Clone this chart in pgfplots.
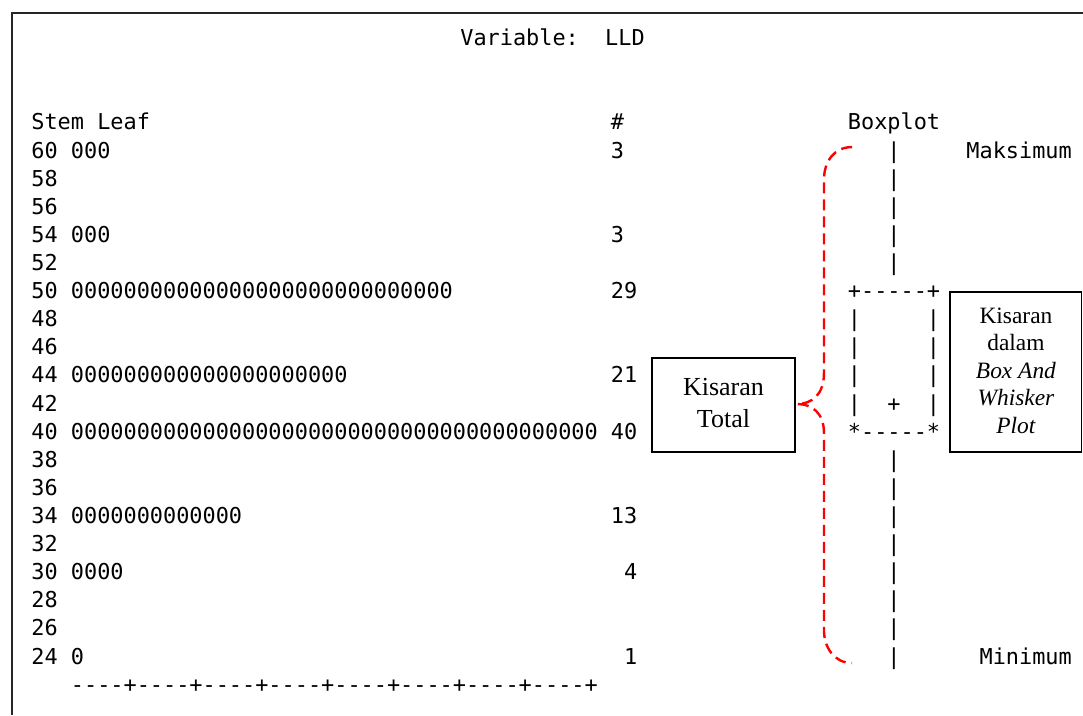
\documentclass[border=0pt]{standalone}
\usepackage{pgfplots}
\pgfplotsset{compat=1.18}
\usepackage{pgfplotstable}
\usepackage{fontspec}
\setmainfont{Liberation Serif}
\setmonofont{DejaVu Sans Mono}
\newcommand\mono{\ttfamily\fontsize{10.94pt}{13pt}\selectfont}

% all stems (stem labels)
\pgfplotstableread{
stem lab
60 60
58 58
56 56
54 54
52 52
50 50
48 48
46 46
44 44
42 42
40 40
38 38
36 36
34 34
32 32
30 30
28 28
26 26
24 24
}\stemtable

% leaves
\pgfplotstableread{
stem leaves
60 000
54 000
50 00000000000000000000000000000
44 000000000000000000000
40 0000000000000000000000000000000000000000
34 0000000000000
30 0000
24 0
}\leaftable

% counts (column position, stem, count)
\pgfplotstableread{
col stem n
44 60 3
44 54 3
44 50 29
44 44 21
44 40 40
44 34 13
45 30 4
45 24 1
}\counttable

% text boxplot
\pgfplotstableread{
col stem s
65 60 |
65 58 |
65 56 |
65 54 |
65 52 |
62 50 +-----+
62 48 |
68 48 |
62 46 |
68 46 |
62 44 |
68 44 |
62 42 |
65 42 +
68 42 |
62 40 *-----*
65 38 |
65 36 |
65 34 |
65 32 |
65 30 |
65 28 |
65 26 |
65 24 |
71 60 Maksimum
72 24 Minimum
}\boxtable

\begin{document}
\begin{tikzpicture}[txt/.style={font=\mono, anchor=base west, inner sep=0pt, yshift=-4pt, text=black}]
\begin{axis}[
  scale only axis, width=541.5pt, height=357.5pt,
  xmin=-2.354, xmax=79.88, ymin=19.804, ymax=70.672,
  hide axis, clip=false,
  every node near coord/.append style={font=\mono, anchor=base west, inner sep=0pt, yshift=-4pt, text=black},
]
\coordinate (ll) at (rel axis cs:0,0);
\coordinate (ur) at (rel axis cs:1,1);
% frame
\draw[line width=1pt, black!85] (axis cs:-1.405,19.804) -- (axis cs:-1.405,69.78) -- (axis cs:79.88,69.78);

\addplot[draw=none, mark=none, nodes near coords, point meta=explicit symbolic]
  table[x expr=0, y=stem, meta=lab]{\stemtable};
\addplot[draw=none, mark=none, nodes near coords, point meta=explicit symbolic]
  table[x expr=3, y=stem, meta=leaves]{\leaftable};
\addplot[draw=none, mark=none, nodes near coords, point meta=explicit symbolic]
  table[x=col, y=stem, meta=n]{\counttable};
\addplot[draw=none, mark=none, nodes near coords, point meta=explicit symbolic]
  table[x=col, y=stem, meta=s]{\boxtable};

% headers
\node[txt] at (axis cs:32.57,68) {Variable:\ \ LLD};
\node[txt] at (axis cs:0,62) {Stem Leaf};
\node[txt] at (axis cs:44,62) {\#};
\node[txt] at (axis cs:62,62) {Boxplot};
\node[txt] at (axis cs:3,22) {----+----+----+----+----+----+----+----+};

% annotation boxes
\draw[line width=0.75pt] (axis cs:47.15,45.20) rectangle (axis cs:58.01,38.51);
\node[font=\fontsize{13pt}{16pt}\selectfont, align=center, inner sep=0pt] at (axis cs:52.58,42.0) {Kisaran\\Total};
\draw[line width=0.75pt] (axis cs:69.78,49.90) rectangle (axis cs:79.75,38.51);
\node[font=\fontsize{11.7pt}{13.75pt}\selectfont, align=center, inner sep=0pt] at (axis cs:74.79,44.3)
  {Kisaran\\dalam\\\textit{Box And}\\\textit{Whisker}\\\textit{Plot}};

% red dashed brace
\draw[red, line width=1.2pt, dash pattern=on 5.5pt off 3pt]
  (axis cs:62.34,60.21) .. controls (axis cs:61.0,60.21) and (axis cs:60.21,59.2) .. (axis cs:60.21,57.87)
  -- (axis cs:60.21,44.13)
  .. controls (axis cs:60.21,42.6) and (axis cs:59.3,41.93) .. (axis cs:58.16,41.93)
  .. controls (axis cs:59.3,41.93) and (axis cs:60.21,41.3) .. (axis cs:60.21,39.87)
  -- (axis cs:60.21,25.85)
  .. controls (axis cs:60.21,24.6) and (axis cs:61.0,23.5) .. (axis cs:62.34,23.5);
\end{axis}
\pgfresetboundingbox
\useasboundingbox (ll) rectangle (ur);
\end{tikzpicture}
\end{document}
